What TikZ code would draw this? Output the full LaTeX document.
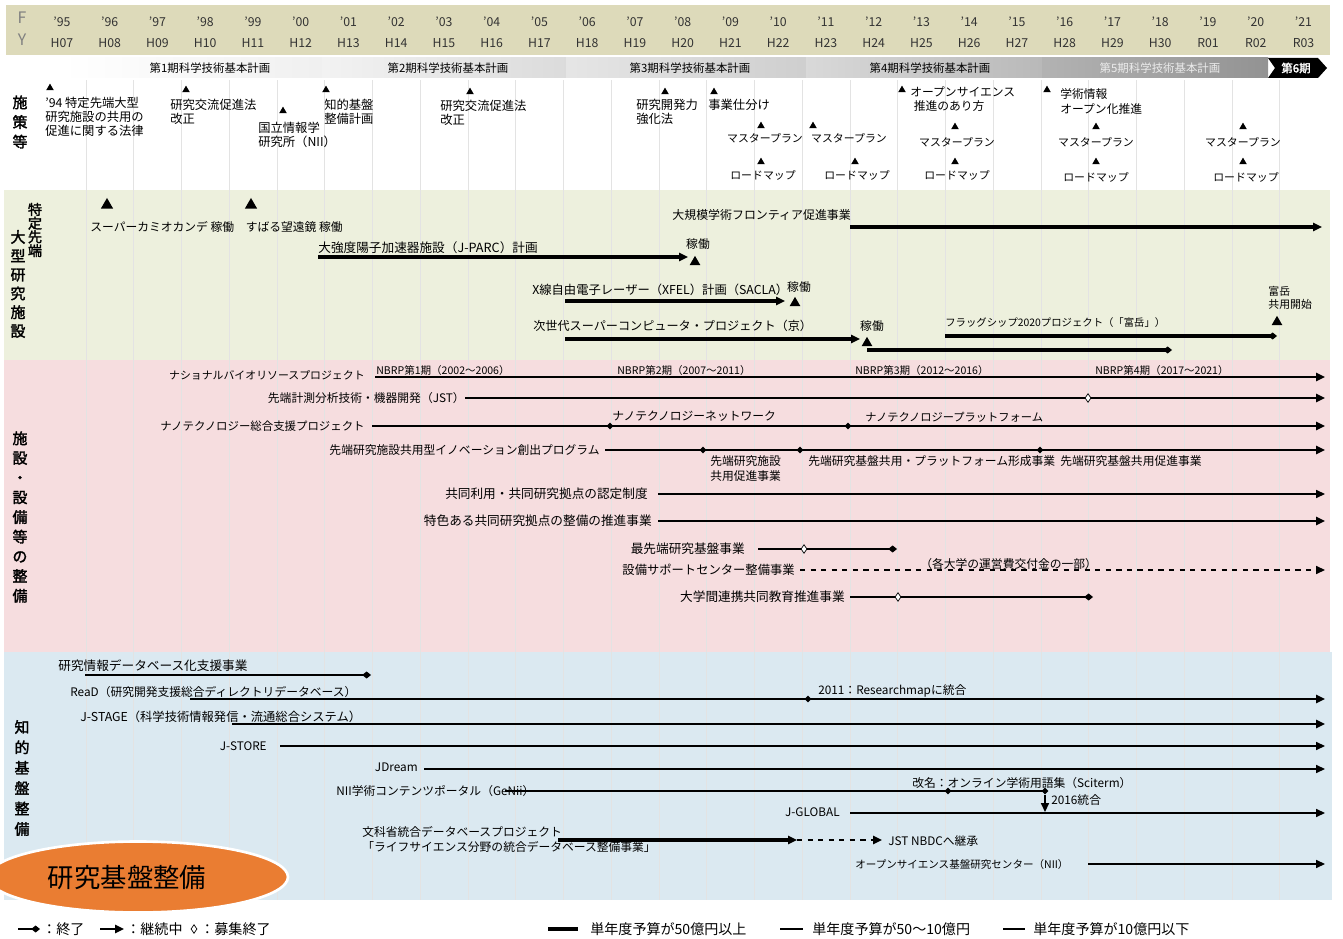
\documentclass[tikz,border=0pt]{standalone}
\usepackage{fontspec}
\setmainfont{Noto Sans CJK JP}[AutoFakeBold=2]
\usetikzlibrary{arrows.meta,shapes.geometric,positioning}
\definecolor{hdrbg}{RGB}{221,218,186}
\definecolor{bggreen}{RGB}{237,240,221}
\definecolor{bgpink}{RGB}{246,221,223}
\definecolor{bgblue}{RGB}{219,233,241}
\definecolor{tagorange}{RGB}{234,125,50}

\begin{document}
\begin{tikzpicture}[x=0.02cm,y=-0.02cm]
  \tikzset{
    every node/.style={inner sep=0pt,font=\fontsize{6.7}{8.4}\selectfont},
    lbl/.style={anchor=west},
    rlbl/.style={anchor=east},
    blk/.style={align=left,anchor=north west},
    pol/.style={blk,font=\fontsize{7}{8}\selectfont},
    big/.style={font=\fontsize{7}{8.4}\selectfont},
    sml/.style={font=\fontsize{6.2}{7.6}\selectfont},
    mplan/.style={anchor=north,sml},
    yrlbl/.style={font=\fontsize{7}{7}\selectfont,text=black!80},
    planlbl/.style={font=\fontsize{6.5}{7}\selectfont},
    nblbl/.style={lbl,font=\fontsize{6}{7}\selectfont},
    leglbl/.style={lbl,font=\fontsize{8}{9}\selectfont},
    sidelbl/.style={align=center,font=\fontsize{8.5}{11.2}\selectfont\bfseries},
    tri/.style={regular polygon,regular polygon sides=3,fill=black,minimum size=5pt},
    bigtri/.style={tri,minimum size=8pt},
    jdot/.style={diamond,fill=black,minimum size=4pt},
    hollow/.style={diamond,draw,fill=white,line width=0.4pt,minimum width=3.5pt,minimum height=5pt},
    wthick/.style={line width=2.3pt},
    wmid/.style={line width=1.4pt},
    wthin/.style={line width=0.8pt},
    cont/.style={-{Triangle[length=5pt,width=4.5pt]}},
    fin/.style={-{Diamond[length=5pt,width=4pt]}}
  }
  \useasboundingbox (0,0) rectangle (1343,939);

  % section backgrounds
  \fill[hdrbg] (6,5) rectangle (1330,55);
  \fill[bggreen] (4,190) rectangle (1330,360);
  \fill[bgpink] (4,360) rectangle (1330,652);
  \fill[bgblue] (4,652) rectangle (1332,900);
  \foreach \k in {0,...,25}
    \draw[gray!22,line width=0.4pt] ({86+47.75*\k},80) -- ({86+47.75*\k},900);

  % fiscal years
  \node[font=\fontsize{9}{9}\selectfont,text=gray] (fy1) at (22,18) {F};
  \node[font=\fontsize{9}{9}\selectfont,text=gray] (fy2) at (22,40) {Y};
  \foreach \k/\yy/\hh in {0/95/H07,1/96/H08,2/97/H09,3/98/H10,4/99/H11,5/00/H12,
      6/01/H13,7/02/H14,8/03/H15,9/04/H16,10/05/H17,11/06/H18,12/07/H19,13/08/H20,
      14/09/H21,15/10/H22,16/11/H23,17/12/H24,18/13/H25,19/14/H26,20/15/H27,
      21/16/H28,22/17/H29,23/18/H30,24/19/R01,25/20/R02,26/21/R03}
  {
    \node[yrlbl] (t\k) at ({62+47.75*\k},22) {’\yy};
    \node[yrlbl] (h\k) at ({62+47.75*\k},43) {\hh};
  }

  % basic plans
  \shade[left color=white,right color=gray!12] (62,58) rectangle (322,78);
  \shade[left color=gray!10,right color=gray!28] (322,58) rectangle (566,78);
  \shade[left color=gray!20,right color=gray!38] (566,58) rectangle (806,78);
  \shade[left color=gray!30,right color=gray!55] (806,58) rectangle (1042,78);
  \shade[left color=gray!60,right color=gray!85] (1042,58) rectangle (1268,78);
  \fill[black] (1268,58) -- (1318,58) -- (1327,68) -- (1318,78) -- (1268,78) -- (1275,68) -- cycle;
  \node[planlbl] (plan1) at (210,68) {第1期科学技術基本計画};
  \node[planlbl] (plan2) at (448,68) {第2期科学技術基本計画};
  \node[planlbl] (plan3) at (690,68) {第3期科学技術基本計画};
  \node[planlbl] (plan4) at (930,68) {第4期科学技術基本計画};
  \node[planlbl,text=white!85!gray] (plan5) at (1160,68) {第5期科学技術基本計画};
  \node[planlbl,font=\fontsize{6.5}{7}\selectfont\bfseries,text=white] (plan6) at (1296,68) {第6期};

  % side labels
  \node[sidelbl] (s1) at (20,122) {施\\策\\等};
  \node[sidelbl,font=\fontsize{8}{7.8}\selectfont\bfseries] (s2a) at (35,230) {特\\定\\先\\端};
  \node[sidelbl,font=\fontsize{8.5}{10.7}\selectfont\bfseries] (s2b) at (18,284) {大\\型\\研\\究\\施\\設};
  \node[sidelbl] (s3) at (20,517) {施\\設\\・\\設\\備\\等\\の\\整\\備};
  \node[sidelbl,font=\fontsize{8.5}{11.6}\selectfont\bfseries] (s4) at (22,778) {知\\的\\基\\盤\\整\\備};

  % policies
  \node[tri] (p1) at (50,88) {};
  \node[pol] (p1t) at (45,97) {’94 特定先端大型\\研究施設の共用の\\促進に関する法律};
  \node[tri] (p2) at (186,90) {};
  \node[pol] (p2t) at (170,99) {研究交流促進法\\改正};
  \node[tri] (p3) at (283,111) {};
  \node[pol] (p3t) at (258,122) {国立情報学\\研究所（NII）};
  \node[tri] (p4) at (326,90) {};
  \node[pol] (p4t) at (324,99) {知的基盤\\整備計画};
  \node[tri] (p5) at (470,92) {};
  \node[pol] (p5t) at (440,100) {研究交流促進法\\改正};
  \node[tri] (p6) at (665,92) {};
  \node[pol] (p6t) at (636,99) {研究開発力\\強化法};
  \node[tri] (p7) at (714,92) {};
  \node[pol] (p7t) at (708,99) {事業仕分け};
  \node[tri] (m1) at (761,126) {};
  \node[mplan] (m1t) at (765,133) {マスタープラン};
  \node[tri] (m2) at (813,126) {};
  \node[mplan] (m2t) at (849,133) {マスタープラン};
  \node[tri] (r1) at (761,162) {};
  \node[mplan] (r1t) at (763,170) {ロードマップ};
  \node[tri] (r2) at (855,162) {};
  \node[mplan] (r2t) at (857,170) {ロードマップ};
  \node[tri] (p8) at (902,90) {};
  \node[blk] (p8t) at (910,86) {オープンサイエンス\\\hspace{2pt}推進のあり方};
  \node[tri] (m3) at (955,127) {};
  \node[mplan] (m3t) at (957,137) {マスタープラン};
  \node[tri] (r3) at (955,162) {};
  \node[mplan] (r3t) at (957,170) {ロードマップ};
  \node[tri] (p9) at (1047,90) {};
  \node[blk] (p9t) at (1060,88) {学術情報\\オープン化推進};
  \node[tri] (m4) at (1096,127) {};
  \node[mplan] (m4t) at (1096,137) {マスタープラン};
  \node[tri] (r4) at (1096,162) {};
  \node[mplan] (r4t) at (1096,172) {ロードマップ};
  \node[tri] (m5) at (1243,127) {};
  \node[mplan] (m5t) at (1243,137) {マスタープラン};
  \node[tri] (r5) at (1243,162) {};
  \node[mplan] (r5t) at (1246,172) {ロードマップ};

  % large facilities
  \node[bigtri] (kam) at (107,205) {};
  \node[bigtri] (sub) at (251,205) {};
  \node[lbl] (kamt) at (90,227) {スーパーカミオカンデ 稼働　すばる望遠鏡 稼働};
  \node[lbl,font=\fontsize{6.8}{8}\selectfont] (front) at (672,215) {大規模学術フロンティア促進事業};
  \coordinate (frS) at (850,227);
  \coordinate (frE) at (1322,227);
  \draw[wthick,cont] (frS) -- (frE);
  \node[lbl,font=\fontsize{7.2}{8}\selectfont] (jparc) at (318,248) {大強度陽子加速器施設（J-PARC）計画};
  \coordinate (jpS) at (318,257);
  \coordinate (jpE) at (688,257);
  \draw[wthick,cont] (jpS) -- (jpE);
  \node[bigtri,minimum size=7pt] (jpOp) at (695,262) {};
  \node (jpOpt) at (698,244) {稼働};
  \node[lbl,big] (xfel) at (532,290) {X線自由電子レーザー（XFEL）計画（SACLA）};
  \coordinate (xfS) at (565,301);
  \coordinate (xfE) at (785,301);
  \draw[wthick,cont] (xfS) -- (xfE);
  \node[bigtri,minimum size=7pt] (xfOp) at (795,303) {};
  \node (xfOpt) at (799,287) {稼働};
  \node[lbl,font=\fontsize{6.9}{8}\selectfont] (kei) at (533,326) {次世代スーパーコンピュータ・プロジェクト（京）};
  \coordinate (keS) at (565,339);
  \coordinate (keE) at (860,339);
  \draw[wthick,cont] (keS) -- (keE);
  \node[bigtri,minimum size=7pt] (keOp) at (867,343) {};
  \node (keOpt) at (872,326) {稼働};
  \coordinate (keUs) at (867,350);
  \coordinate (keUe) at (1172,350);
  \draw[wthick,fin] (keUs) -- (keUe);
  \node[lbl,font=\fontsize{5.9}{7}\selectfont] (fug) at (945,323) {フラッグシップ2020プロジェクト（「富岳」）};
  \coordinate (fuS) at (945,336);
  \coordinate (fuE) at (1277,336);
  \draw[wthick,fin] (fuS) -- (fuE);
  \node[bigtri,minimum size=7pt] (fuOp) at (1277,322) {};
  \node[blk,sml] (fuOpt) at (1268,286) {富岳\\共用開始};

  % facilities and equipment
  \node[rlbl,sml] (nbrp) at (365,375) {ナショナルバイオリソースプロジェクト};
  \coordinate (nbE) at (1325,377);
  \draw[wmid,cont] (375,377) -- (nbE);
  \node[nblbl] (nb1) at (376,370) {NBRP第1期（2002〜2006）};
  \node[nblbl] (nb2) at (617,370) {NBRP第2期（2007〜2011）};
  \node[nblbl] (nb3) at (855,370) {NBRP第3期（2012〜2016）};
  \node[nblbl] (nb4) at (1095,370) {NBRP第4期（2017〜2021）};
  \node[rlbl] (sokei) at (465,398) {先端計測分析技術・機器開発（JST）};
  \coordinate (soE) at (1325,398);
  \draw[wmid,cont] (sokei.east) -- (soE);
  \node[hollow] (soR) at (1088,398) {};
  \node[rlbl,font=\fontsize{6.5}{8}\selectfont] (nano) at (365,426) {ナノテクノロジー総合支援プロジェクト};
  \coordinate (naE) at (1325,426);
  \draw[wmid,cont] (372,426) -- (naE);
  \node[jdot] (na1) at (610,426) {};
  \node[jdot] (na2) at (848,426) {};
  \node[lbl] (na1t) at (612,416) {ナノテクノロジーネットワーク};
  \node[lbl,font=\fontsize{6.4}{8}\selectfont] (na2t) at (865,417) {ナノテクノロジープラットフォーム};
  \node[rlbl] (sento) at (600,450) {先端研究施設共用型イノベーション創出プログラム};
  \coordinate (seE) at (1325,450);
  \draw[wmid,cont] (605,450) -- (seE);
  \node[jdot] (se1) at (703,450) {};
  \node[jdot] (se2) at (800,450) {};
  \node[jdot] (se3) at (1040,450) {};
  \node[blk] (se1t) at (710,455) {先端研究施設\\共用促進事業};
  \node[blk] (se2t) at (808,455) {先端研究基盤共用・プラットフォーム形成事業};
  \node[blk] (se3t) at (1060,455) {先端研究基盤共用促進事業};
  \node[rlbl,font=\fontsize{7.2}{8}\selectfont] (kyodo) at (648,494) {共同利用・共同研究拠点の認定制度};
  \coordinate (kyE) at (1325,494);
  \draw[wthin,cont] (658,494) -- (kyE);
  \node[rlbl,font=\fontsize{7.2}{8}\selectfont] (tokus) at (652,521) {特色ある共同研究拠点の整備の推進事業};
  \coordinate (toE) at (1325,521);
  \draw[wmid,cont] (658,521) -- (toE);
  \node[rlbl,font=\fontsize{7.2}{8}\selectfont] (saisen) at (745,549) {最先端研究基盤事業};
  \coordinate (saE) at (897,549);
  \draw[wthin,fin] (758,549) -- (saE);
  \node[hollow] (saR) at (804,549) {};
  \node[rlbl,big] (setsubi) at (795,570) {設備サポートセンター整備事業};
  \coordinate (stE) at (1325,570);
  \draw[wthin,dashed,cont] (800,570) -- (stE);
  \node[lbl] (stNote) at (920,564) {（各大学の運営費交付金の一部）};
  \node[rlbl,font=\fontsize{7.2}{8}\selectfont] (daigaku) at (845,597) {大学間連携共同教育推進事業};
  \coordinate (daE) at (1093,597);
  \draw[wthin,fin] (850,597) -- (daE);
  \node[hollow] (daR) at (898,597) {};

  % intellectual infrastructure
  \node[lbl,font=\fontsize{7.2}{8}\selectfont] (kdb) at (58,666) {研究情報データベース化支援事業};
  \coordinate (kdS) at (85,675);
  \coordinate (kdE) at (371,675);
  \draw[wmid,fin] (kdS) -- (kdE);
  \node[lbl] (read) at (70,692) {ReaD（研究開発支援総合ディレクトリデータベース）};
  \coordinate (reS) at (190,699);
  \coordinate (reE) at (1325,699);
  \draw[wmid,cont] (reS) -- (reE);
  \node[jdot] (reM) at (808,699) {};
  \node[lbl] (reMt) at (818,691) {2011：Researchmapに統合};
  \node[lbl,big] (jstage) at (80,717) {J-STAGE（科学技術情報発信・流通総合システム）};
  \coordinate (jsS) at (232,724);
  \coordinate (jsE) at (1325,724);
  \draw[wmid,cont] (jsS) -- (jsE);
  \node[rlbl] (jstore) at (267,746) {J-STORE};
  \coordinate (jtE) at (1325,746);
  \draw[wthin,cont] (280,746) -- (jtE);
  \node[rlbl] (jdream) at (418,767) {JDream};
  \coordinate (jdE) at (1325,769);
  \draw[wthin,cont] (424,769) -- (jdE);
  \node[lbl] (genii) at (336,791) {NII学術コンテンツポータル（GeNii）};
  \coordinate (geS) at (505,791);
  \coordinate (geE) at (1045,791);
  \draw[wmid] (geS) -- (geE);
  \node[jdot] (geM) at (948,791) {};
  \node[jdot] (geX) at (1045,791) {};
  \node[lbl] (geMt) at (912,783) {改名：オンライン学術用語集（Sciterm）};
  \node[lbl] (geXt) at (1051,800) {2016統合};
  \node[rlbl] (jglobal) at (840,812) {J-GLOBAL};
  \coordinate (jgE) at (1325,813);
  \draw[wthin,cont] (850,813) -- (jgE);
  \draw[wthin,cont] (geX) -- (1045,812);
  \node[blk] (lsdb) at (362,826) {文科省統合データベースプロジェクト\\「ライフサイエンス分野の統合データベース整備事業」};
  \coordinate (lsS) at (558,840);
  \coordinate (lsM) at (797,840);
  \coordinate (lsE) at (882,840);
  \draw[wthick,cont] (lsS) -- (lsM);
  \draw[wmid,dashed,cont] (lsM) -- (lsE);
  \node[lbl] (nbdc) at (888,841) {JST NBDCへ継承};
  \node[lbl,font=\fontsize{6}{7}\selectfont] (osc) at (855,864) {オープンサイエンス基盤研究センター（NII）};
  \coordinate (osE) at (1325,864);
  \draw[wthin,cont] (1088,864) -- (osE);

  % tag
  \node[ellipse,fill=tagorange,draw=white,line width=1.5pt,minimum width=6cm,minimum height=1.42cm] (tag) at (138,877) {};
  \node[font=\fontsize{15}{15}\selectfont] (tagt) at (127,878) {研究基盤整備};

  % legend
  \coordinate (lg1s) at (18,929);
  \coordinate (lg1e) at (40,929);
  \draw[wmid,fin] (lg1s) -- (lg1e);
  \node[leglbl] (lg1t) at (42,929) {：終了};
  \coordinate (lg2s) at (100,929);
  \coordinate (lg2e) at (124,929);
  \draw[wmid,cont] (lg2s) -- (lg2e);
  \node[leglbl] (lg2t) at (126,929) {：継続中};
  \node[hollow] (lg3) at (194,929) {};
  \node[leglbl] (lg3t) at (200,929) {：募集終了};
  \draw[wthick] (548,929) -- (578,929);
  \node[leglbl] (lg4t) at (590,929) {単年度予算が50億円以上};
  \draw[wmid] (780,929) -- (803,929);
  \node[leglbl] (lg5t) at (812,929) {単年度予算が50〜10億円};
  \draw[wthin] (1003,929) -- (1025,929);
  \node[leglbl] (lg6t) at (1033,929) {単年度予算が10億円以下};
\end{tikzpicture}
\end{document}
